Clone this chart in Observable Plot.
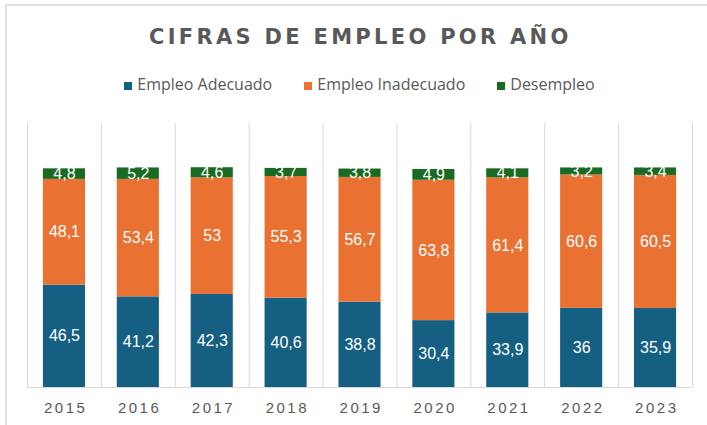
<!DOCTYPE html>
<html>
<head>
<meta charset="utf-8">
<script src="https://cdn.jsdelivr.net/npm/d3@7"></script>
<script src="https://cdn.jsdelivr.net/npm/@observablehq/plot@0.6"></script>
<style>
  html, body { margin: 0; padding: 0; background: #fff; }
  #wrap { position: relative; width: 707px; height: 425px; overflow: hidden; background: #fff; }
  #frame { position: absolute; left: 5px; top: 4px; width: 740px; height: 460px; border: 2px solid #e0e0e0; box-sizing: border-box; }
  #title { position: absolute; left: 149px; top: 27px; font-family: "DejaVu Sans", sans-serif; font-weight: 700; font-size: 21px; line-height: 21px; letter-spacing: 3.3px; color: #595959; white-space: nowrap; }
  #legend { position: absolute; left: 0; top: 76px; width: 707px; display: flex; justify-content: center; gap: 32px; font-family: "Open Sans", sans-serif; font-size: 16px; line-height: 16px; color: #595959; padding-left: 12px; box-sizing: border-box; white-space: nowrap; }
  #legend .item { display: flex; align-items: flex-start; }
  #legend .sw { width: 8px; height: 8px; margin-right: 5px; margin-top: 6px; }
  #chart { position: absolute; left: 0; top: 110px; }
  #chart [aria-label="x-axis tick label"] text { letter-spacing: 2.5px; }
</style>
</head>
<body>
<div id="wrap">
  <div id="frame"></div>
  <div id="title"></div>
  <div id="legend"></div>
  <div id="chart"></div>
</div>
<script>
const titleText = "CIFRAS DE EMPLEO POR AÑO";
const years = ["2015", "2016", "2017", "2018", "2019", "2020", "2021", "2022", "2023"];
const seriesNames = ["Empleo Adecuado", "Empleo Inadecuado", "Desempleo"];
const adecuado   = [46.5, 41.2, 42.3, 40.6, 38.8, 30.4, 33.9, 36, 35.9];
const inadecuado = [48.1, 53.4, 53, 55.3, 56.7, 63.8, 61.4, 60.6, 60.5];
const desempleo  = [4.8, 5.2, 4.6, 3.7, 3.8, 4.9, 4.1, 3.2, 3.4];
const colors = ["#156082", "#E97132", "#196B24"];

const seriesValues = [adecuado, inadecuado, desempleo];
const data = [];
years.forEach((year, i) => {
  seriesNames.forEach((s, j) => data.push({year, series: s, value: seriesValues[j][i]}));
});
const fmt = v => String(v).replace(".", ",");

document.getElementById("title").textContent = titleText;

const legend = document.getElementById("legend");
seriesNames.forEach((s, j) => {
  const item = document.createElement("div");
  item.className = "item";
  const sw = document.createElement("span");
  sw.className = "sw";
  sw.style.background = colors[j];
  const label = document.createElement("span");
  label.textContent = s;
  item.append(sw, label);
  legend.append(item);
});

const W = 707, H = 315, ML = 27, MR = 15;
const step = (W - ML - MR) / years.length;

const chart = Plot.plot({
  width: W,
  height: H,
  marginTop: 13,
  marginBottom: 38,
  marginLeft: ML,
  marginRight: MR,
  style: {fontFamily: "'Liberation Sans', Arial, sans-serif", background: "transparent"},
  x: {domain: years, paddingInner: 0.43, paddingOuter: 0.215, round: false, label: null, axis: null},
  y: {domain: [0, 120], axis: null},
  color: {domain: seriesNames, range: colors},
  marks: [
    Plot.ruleX(years, {x: d => d, y1: 0, y2: 120, dx: -step / 2, stroke: "#d9d9d9", strokeWidth: 1}),
    Plot.ruleX([years[years.length - 1]], {x: d => d, y1: 0, y2: 120, dx: step / 2, stroke: "#d9d9d9", strokeWidth: 1}),
    Plot.ruleY([0], {stroke: "#d9d9d9", strokeWidth: 1}),
    Plot.barY(data, {x: "year", y: "value", z: "series", fill: "series"}),
    Plot.text(data, Plot.stackY({x: "year", y: "value", z: "series", text: d => fmt(d.value), fill: "white", fontSize: 16})),
    Plot.axisX({tickSize: 0, tickPadding: 15, fontSize: 15, fill: "#595959", dx: 1.25, label: null})
  ]
});
document.getElementById("chart").append(chart);
</script>
</body>
</html>
